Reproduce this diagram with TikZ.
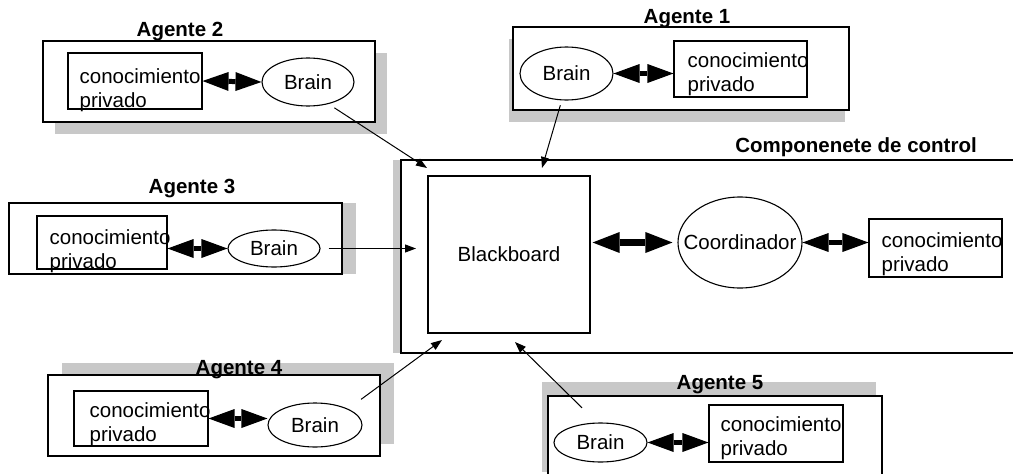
\documentclass[tikz,border=0pt]{standalone}
\usepackage{fontspec}
\setmainfont{Liberation Sans}
\usetikzlibrary{arrows.meta,shapes.geometric,shadows}
\definecolor{gris}{RGB}{200,200,200}

\begin{document}
\begin{tikzpicture}[line join=miter,x=1pt,y=-1pt,
	every node/.style={font=\fontsize{20.5}{24}\selectfont},
	caja/.style={draw,line width=1.2pt,fill=white},
	agente/.style={caja,minimum width=332pt,minimum height=81pt},
	sombra/.style 2 args={drop shadow={shadow xshift=#1,shadow yshift=#2,fill=gris,opacity=1}},
	conoc/.style={draw,line width=1.1pt,minimum width=134pt,minimum height=56pt},
	texto/.style={anchor=north west,align=left,inner sep=0pt},
	brain/.style={draw,ellipse,line width=1.1pt,minimum width=93pt,inner sep=0pt},
	titulo/.style={anchor=base,font=\fontsize{20.5}{24}\selectfont\bfseries},
	dflecha/.style={line width=5pt,{Triangle[length=26pt,width=19pt,line width=0pt]}-{Triangle[length=26pt,width=19pt,line width=0pt]}},
	dflechag/.style={line width=7pt,{Triangle[length=27pt,width=21pt,line width=0pt]}-{Triangle[length=27pt,width=21pt,line width=0pt]}},
	flecha/.style={line width=1pt,-{Triangle[length=11pt,width=8pt]}}]
	\useasboundingbox (0,0) rectangle (1013,474);
	\clip (0,0) rectangle (1013,474);
	% cajas
	\node[agente,sombra={12pt}{-12pt}] (ag2) at (209,81.5) {};
	\node[agente,minimum width=336pt,minimum height=83pt,sombra={-4pt}{-12pt}] (ag1) at (681,68.5) {};
	\node[agente,minimum width=333pt,minimum height=71pt,sombra={14pt}{0pt}] (ag3) at (175.5,238.5) {};
	\node[agente,sombra={14pt}{12pt}] (ag4) at (214,415.5) {};
	\node[agente,minimum width=334pt,minimum height=90pt,sombra={-6pt}{14pt}] (ag5) at (715,441) {};
	\node[caja,minimum width=629pt,minimum height=193pt,sombra={-8pt}{0pt}] (ctrl) at (715.5,256.5) {};
	% componente de control
	\node[caja,minimum width=162pt,minimum height=157pt] (bb) at (509,254.5) {Blackboard};
	\node[brain,minimum width=124pt,minimum height=91pt] (coord) at (740,242.5) {\makebox[0pt]{Coordinador}};
	\node[conoc,minimum width=133pt,minimum height=58pt] (kc) at (935.5,248) {};
	\node[texto] (tc) at ([shift={(13,14)}]kc.north west) {conocimiento\\privado};
	% agentes
	\node[conoc] (k2) at (135,81) {};
	\node[texto] (t2) at ([shift={(12,16)}]k2.north west) {conocimiento\\privado};
	\node[brain,minimum width=92pt,minimum height=48pt] (b2) at (308,82) {Brain};
	\node[conoc,minimum width=133pt] (k1) at (740.5,69) {};
	\node[texto] (t1) at ([shift={(14,12)}]k1.north west) {conocimiento\\privado};
	\node[brain,minimum height=53pt] (b1) at (566.5,73.5) {Brain};
	\node[conoc,minimum width=130pt,minimum height=53pt] (k3) at (102,242.5) {};
	\node[texto] (t3) at ([shift={(13,14)}]k3.north west) {conocimiento\\privado};
	\node[brain,minimum width=92pt,minimum height=37pt] (b3) at (274,248.5) {Brain};
	\node[conoc,minimum height=55pt] (k4) at (141,418.5) {};
	\node[texto] (t4) at ([shift={(16,12)}]k4.north west) {conocimiento\\privado};
	\node[brain,minimum width=94pt,minimum height=44pt] (b4) at (315,425) {Brain};
	\node[conoc,minimum height=57pt] (k5) at (776,433.5) {};
	\node[texto] (t5) at ([shift={(12,12)}]k5.north west) {conocimiento\\privado};
	\node[brain,minimum height=39pt] (b5) at (600.5,442.5) {Brain};
	% titulos
	\node[titulo] (l2) at (180,36) {Agente 2};
	\node[titulo] (l1) at (687,23) {Agente 1};
	\node[titulo] (l3) at (192,193) {Agente 3};
	\node[titulo] (l4) at (239,374) {Agente 4};
	\node[titulo] (l5) at (720,389) {Agente 5};
	\node[titulo] (lc) at (856,152) {Componenete de control};
	% flechas dobles
	\draw[dflecha] (k2.east) -- (b2.west);
	\draw[dflecha] (b1.east) -- (b1.east -| k1.west);
	\draw[dflecha] (k3.east |- b3.west) -- (b3.west);
	\draw[dflecha] (k4.east) -- (k4.east -| b4.west);
	\draw[dflecha] (b5.east) -- (b5.east -| k5.west);
	\draw[dflechag,shorten <=2pt,shorten >=5pt] (bb.east |- coord.west) -- (coord.west);
	\draw[dflecha] (coord.east) -- (coord.east -| kc.west);
	% flechas al blackboard
	\coordinate (e2) at (427,168);
	\coordinate (e1) at (542,168);
	\coordinate (e3) at (416,248.5);
	\coordinate (e4) at (442,340);
	\coordinate (e5) at (515,342);
	\draw[flecha,shorten <=7pt] (b2.-47) -- (e2);
	\draw[flecha,shorten <=5pt] (b1.-100) -- (e1);
	\draw[flecha,shorten <=8pt] (b3.east) -- (e3);
	\draw[flecha,shorten <=16pt] (b4.26) -- (e4);
	\draw[flecha,shorten <=21pt] (b5.100) -- (e5);
\end{tikzpicture}
\end{document}
